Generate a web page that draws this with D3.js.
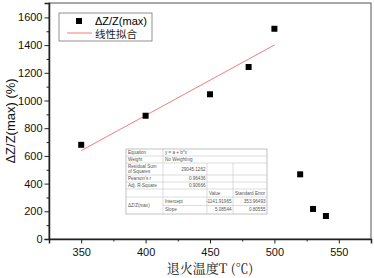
<!DOCTYPE html>
<html>
<head>
<meta charset="utf-8">
<script src="https://cdn.jsdelivr.net/npm/d3@7"></script>
<style>
  body { margin: 0; background: #fff; }
  svg { display: block; font-family: "Liberation Sans", Arial, sans-serif; }
  .axis path, .axis line { stroke: #222; }
  .axis text { fill: #111; font-size: 11px; }
  .tbl text { font-size: 4.6px; fill: #555; }
</style>
</head>
<body>
<svg id="chart"></svg>
<script>
// measured points
const temps = [350, 400, 450, 480, 500, 520, 530, 540];
const ratio = [680, 890, 1045, 1242, 1518, 467, 217, 166];
// linear fit (from the fit table)
const fitRange = [350, 500];
const intercept = -1141.91965;
const slope = 5.08544;
const xTicks = [350, 400, 450, 500, 550];
const yTicks = [0, 200, 400, 600, 800, 1000, 1200, 1400, 1600];

const tableRows = [
  ["Equation", "y = a + b*x"],
  ["Weight", "No Weighting"],
  ["Residual Sum\nof Squares", "29045.1262", "", ""],
  ["Pearson's r", "0.96436", "", ""],
  ["Adj. R-Square", "0.90666", "", ""],
  ["", "", "Value", "Standard Error"],
  ["ΔZ/Z(max)", "Intercept", "-1141.91965", "353.96493"],
  ["", "Slope", "5.08544", "0.80555"]
];

const W = 374, H = 278;
const margin = {top: 3, right: 3, bottom: 39, left: 49};
const width = W - margin.left - margin.right;
const height = H - margin.top - margin.bottom;

const svg = d3.select("#chart").attr("width", W).attr("height", H);
const g = svg.append("g").attr("transform", `translate(${margin.left},${margin.top})`);

const x = d3.scaleLinear().domain([325, 575]).range([0, width]);
const y = d3.scaleLinear().domain([0, 1704]).range([height, 0]);

// frame
g.append("rect").attr("width", width).attr("height", height)
  .attr("fill", "none").attr("stroke", "#555").attr("stroke-width", 1);

// minor ticks
g.append("g").attr("class", "axis").attr("transform", `translate(0,${height})`)
  .call(d3.axisBottom(x).tickValues(d3.range(375, 575, 50)).tickSize(2.5).tickFormat(""))
  .call(s => s.select(".domain").remove());
g.append("g").attr("class", "axis")
  .call(d3.axisLeft(y).tickValues(d3.range(100, 1700, 200)).tickSize(2.5).tickFormat(""))
  .call(s => s.select(".domain").remove());

// major axes
g.append("g").attr("class", "axis").attr("transform", `translate(0,${height})`)
  .call(d3.axisBottom(x).tickValues(xTicks).tickSize(4.5).tickPadding(5).tickFormat(d3.format("d")))
  .call(s => s.select(".domain").attr("stroke-width", 1.5));
g.append("g").attr("class", "axis")
  .call(d3.axisLeft(y).tickValues(yTicks).tickSize(4.5).tickPadding(2).tickFormat(d3.format("d")))
  .call(s => s.select(".domain").attr("stroke-width", 1.5));

// fit line
g.append("line")
  .attr("x1", x(fitRange[0])).attr("y1", y(intercept + slope * fitRange[0]))
  .attr("x2", x(fitRange[1])).attr("y2", y(intercept + slope * fitRange[1]))
  .attr("stroke", "#f47c7c").attr("stroke-width", 1);

// points
g.selectAll(".pt").data(temps).enter().append("rect").attr("class", "pt")
  .attr("x", d => x(d) - 3).attr("y", (d, i) => y(ratio[i]) - 3)
  .attr("width", 6).attr("height", 6).attr("fill", "#000");

// legend
const lg = svg.append("g").attr("transform", "translate(59,13)");
lg.append("rect").attr("width", 93).attr("height", 28)
  .attr("fill", "#fff").attr("stroke", "#777").attr("stroke-width", 0.8);
lg.append("rect").attr("x", 17).attr("y", 5).attr("width", 6).attr("height", 6).attr("fill", "#000");
lg.append("text").attr("x", 36).attr("y", 12).attr("font-size", 11).text("ΔZ/Z(max)");
lg.append("line").attr("x1", 8).attr("x2", 33).attr("y1", 20).attr("y2", 20)
  .attr("stroke", "#f47c7c").attr("stroke-width", 1);
lg.append("text").attr("x", 36).attr("y", 25).attr("font-size", 10.5)
  .attr("font-family", "'Noto Sans CJK SC', sans-serif").attr("fill", "#222").text("线性拟合");

// fit table
const cols = [126, 163, 207, 233, 267];
const rowH = [7, 7, 12, 7, 7, 8, 8.5, 8.5];
const rowY = [149];
rowH.forEach((h, i) => rowY.push(rowY[i] + h));
const tb = svg.append("g").attr("class", "tbl");
tb.append("rect").attr("x", cols[0]).attr("y", rowY[0])
  .attr("width", cols[4] - cols[0]).attr("height", rowY[8] - rowY[0])
  .attr("fill", "#fff").attr("stroke", "#999").attr("stroke-width", 0.6);
const ln = (x1, y1, x2, y2) => tb.append("line").attr("x1", x1).attr("y1", y1)
  .attr("x2", x2).attr("y2", y2).attr("stroke", "#bbb").attr("stroke-width", 0.5);
// horizontal lines
for (let i = 1; i < 8; i++) ln(i === 7 ? cols[1] : cols[0], rowY[i], cols[4], rowY[i]);
// vertical lines
ln(cols[1], rowY[0], cols[1], rowY[8]);
ln(cols[2], rowY[2], cols[2], rowY[8]);
ln(cols[3], rowY[2], cols[3], rowY[8]);
tableRows.forEach((row, r) => {
  const yc = (rowY[r] + rowY[r + 1]) / 2;
  row.forEach((cell, c) => {
    if (!cell) return;
    let ty = yc;
    if (c === 0 && r === 6) ty = rowY[7];
    const lines = cell.split("\n");
    const right = (c >= 1 && r >= 2 && r <= 4) || (c >= 2 && r >= 6);
    const t = tb.append("text")
      .attr("x", right ? cols[c + 1] - 1.5 : cols[c] + 2)
      .attr("text-anchor", right ? "end" : "start");
    lines.forEach((s, k) => t.append("tspan")
      .attr("x", right ? cols[c + 1] - 1.5 : cols[c] + 2)
      .attr("y", ty + 1.7 + (k - (lines.length - 1) / 2) * 5.2).text(s));
  });
});

// axis titles
svg.append("text").attr("transform", "translate(15,121) rotate(-90)")
  .attr("text-anchor", "middle").attr("font-size", 13).attr("fill", "#111")
  .text("ΔZ/Z(max) (%)");
svg.append("text").attr("x", 210).attr("y", 273).attr("text-anchor", "middle")
  .attr("font-size", 13).attr("fill", "#111")
  .attr("font-family", "'Noto Serif CJK SC', 'Noto Sans CJK SC', serif")
  .text("退火温度T (℃)");
</script>
</body>
</html>
